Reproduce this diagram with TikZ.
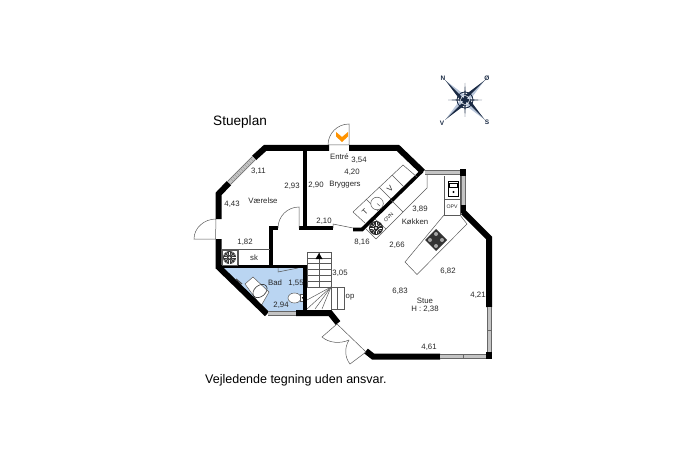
\documentclass[tikz,border=0pt]{standalone}
\usepackage{fontspec}
\usetikzlibrary{calc}
\setmainfont{Liberation Sans}
\definecolor{bathblue}{HTML}{BAD5F2}
\definecolor{wingrey}{HTML}{C4C4C4}
\definecolor{navy}{HTML}{1A2A44}
\definecolor{palenavy}{HTML}{B9C6DA}
\tikzset{
  wall/.style={line width=6pt,line cap=butt,line join=miter,black},
  iwall/.style={line width=3.6pt,line join=miter,black},
  thin/.style={line width=0.5pt,draw=black!65},
  glass/.style={line width=5pt,wingrey},
  glassedge/.style={line width=0.4pt,black!60},
  lbl/.style={font=\fontsize{7.8}{9}\selectfont,text=black!85,inner sep=0pt},
  small/.style={font=\fontsize{5.2}{6}\selectfont,text=black!85,inner sep=0pt},
  compasslbl/.style={font=\fontsize{6.5}{7}\selectfont\bfseries,text=navy,inner sep=0pt},
}
\begin{document}
\begin{tikzpicture}[x=1pt,y=-1pt]
\useasboundingbox (0,0) rectangle (687,457);
% bath floor
\fill[bathblue] (222,268) -- (303,268) -- (303,311) -- (268,311) -- cycle;
\draw[thin] (278,268) -- (278,272) -- (298,268);
% bath tub
\draw[thin,fill=white] (245,284) -- (253,277) -- (269,292) -- (261,306) -- cycle;
\draw[line width=0.6pt,black!80] (260,291) ellipse[x radius=8,y radius=5.5,rotate=40];
\draw[line width=1.2pt,black!70] (236,279) -- (242,284);
% toilet
\draw[thin,fill=white] (294.5,298) ellipse[x radius=6.5,y radius=5];
\draw[thin,fill=white] (300.5,294) rectangle (304.5,301.5);
\fill[black] (302.5,297.8) circle (0.8);
% walls
\draw[wall] (329,148) -- (265,148) -- (254,158);
\draw[wall] (229,183) -- (218.5,194) -- (218.5,219);
\draw[wall] (218.5,239) -- (218.5,267) -- (267,314);
\draw[wall] (296,313) -- (330,313) -- (338,323);
\draw[wall] (366,351) -- (373,356.5) -- (440,356.5);
\draw[wall] (489,307) -- (489,238) -- (463,212);
\draw[wall] (349,148) -- (398,148) -- (423,172);
\fill (486,352) rectangle (492,359);
\fill (459.5,169) rectangle (466,176);
\fill (459.5,205) rectangle (466,213);
% inner walls
\draw[iwall] (305,148) -- (305,228);
\draw[iwall] (299,228) -- (333,228);
\draw[iwall] (278,228) -- (271,228) -- (271,267);
\draw[iwall] (422,171) -- (362,229.5) -- (353,229.5);
\draw[iwall] (219,266.5) -- (307,266.5);
\draw[iwall] (305,266.5) -- (305,313);
% windows
\foreach \a/\b in {{(254,158)}/{(229,183)},{(268,313.5)}/{(296,313.5)},{(440,356.5)}/{(486,356.5)},{(489,307)}/{(489,352)},{(425,172)}/{(460,172)},{(463,176)}/{(463,205)}}{
  \draw[glass] \a -- \b;
}
\draw[glassedge] (255.5,159.5) -- (230.5,184.5) (252.5,156.5) -- (227.5,181.5);
\draw[glassedge] (268,311.5) -- (296,311.5) (268,315.5) -- (296,315.5);
\draw[glassedge] (440,354.5) -- (486,354.5) (440,358.5) -- (486,358.5) (463,354.5) -- (463,358.5);
\draw[glassedge] (487,307) -- (487,352) (491,307) -- (491,352) (487,330) -- (491,330);
\draw[glassedge] (425,170) -- (460,170) (425,174) -- (460,174);
\draw[glassedge] (461,176) -- (461,205) (465,176) -- (465,205);
% window hatch
\foreach \t in {0.08,0.16,...,0.96}{
  \draw[black!45,line width=0.3pt] ($(254,158)!\t!(229,183)+(-2,-2)$) -- ($(254,158)!\t!(229,183)+(2,2)$);
}
% entry door
\draw[thin] (349,145) -- (349,124) .. controls (337.4,124) and (328,133.4) .. (328,145) -- cycle;
\fill[orange!85!yellow] (336,132) -- (342,137) -- (348,132) -- (348,136.5) -- (342,142) -- (336,136.5) -- cycle;
% west door
\draw[thin] (216,219) -- (215.5,239) -- (194,239) .. controls (194,228) and (204,219) .. (216,219);
% Vaerelse door
\draw[thin] (299,228) -- (299,207) .. controls (287.4,207) and (278,216.4) .. (278,228);
% Bryggers door
\draw[thin] (333,228) -- (333,224) -- (353,228);
% sk closet
\draw[thin] (221,249) -- (270,249);
\draw[thin] (238,249) -- (238,265);
\draw[thin] (222,250) rectangle (237,265);
\fill[black!80] (229.5,257.5) circle (6.5);
\fill[white] (229.5,257.5) circle (1.2);
\foreach \r in {0,30,...,330}{\draw[white,line width=0.35pt] (229.5,257.5) ++(\r:2.5) -- ++(\r:3.5);}
% stairs
\draw[thin] (307,252) rectangle (331,287);
\foreach \y in {257.8,263.7,269.5,275.3,281.2}{\draw[thin] (307,\y) -- (331,\y);}
\draw[thin] (319,252) -- (319,287);
\fill (315.5,259) -- (319,253) -- (322.5,259) -- cycle;
\draw[thin] (331,287) -- (344,287) -- (344,309) -- (331,309) -- cycle;
\draw[thin] (337.5,287) -- (337.5,309);
\draw[thin] (331,287) -- (307,300);
\draw[thin] (331,287) -- (307,309);
\draw[thin] (331,287) -- (315,309);
\draw[thin] (331,287) -- (322,309);
% main entrance doors
\draw[thin] (337,324) -- (366,352);
\draw[thin] (337,324) -- (322,337) .. controls (329,343) and (340,344) .. (349,340);
\draw[thin] (366,352) -- (350,364) .. controls (345,358) and (344,348) .. (349,340);
% bryggers counter
\draw[thin] (353,212) -- (403,165) -- (417,177);
\draw[thin] (353,212) -- (365,223);
\draw[thin] (366,199) -- (378,211);
\draw[thin] (379,187) -- (391,199);
\draw[thin] (392,175) -- (404,187);
\draw[thin,fill=white] (377,203.5) circle (6.3);
\draw[thin] (377,203.5) -- (380,206) ;
% kitchen counter
\draw[thin] (427,175) -- (427,188) -- (376,239);
\draw[thin] (376,239) -- (366,229);
\draw[thin] (386,229) -- (375,219);
\draw[thin] (403,212) -- (391,200);
\fill[black!85] (376,228) circle (7);
\fill[white] (376,228) circle (1.2);
\foreach \r in {0,30,...,330}{\draw[white,line width=0.35pt] (376,228) ++(\r:2.5) -- ++(\r:3.8);}
\node[small,rotate=45] (ovn) at (388.5,217.5) {OVN};
% sink
\draw[thin] (444,176) -- (444,215) -- (460,215);
\draw[thin] (444,199) -- (460,199);
\draw[thin] (460,176) -- (460,215);
\draw[line width=0.6pt,fill=white] (448,181) rectangle (458,196);
\draw[line width=0.5pt] (449,183) rectangle (457,187);
\fill (453.5,192) circle (1.1);
\node[small] (opv) at (452,207) {OPV};
% hob counter
\draw[thin] (444,215) -- (405,262) -- (417,274.5) -- (467,224) -- (460,215);
\fill[black!80] (436,229) -- (447,240) -- (436,251) -- (425,240) -- cycle;
\foreach \p in {(436,234),(436,246),(430,240),(442,240)}{\fill[black!35] \p circle (2);}
% compass
\begin{scope}[shift={(465,100)}]
\foreach \r in {45,135,225,315}{
  \fill[palenavy,rotate=\r] (0,0) -- (3,3.5) -- (28,0) -- cycle;
  \fill[navy,rotate=\r] (0,0) -- (3,-3.5) -- (28,0) -- cycle;
}
\foreach \r in {0,90,180,270}{
  \fill[navy,rotate=\r] (0,-1.1) -- (17,0) -- (0,1.1) -- cycle;
}
\draw[navy,line width=0.8pt] (0,0) circle (8);
\draw[white,line width=0.5pt] (0,0) circle (4.5);
\fill[navy] (0,0) circle (2.8);
\end{scope}
\node[compasslbl] (n) at (443,78.5) {N};
\node[compasslbl] (oe) at (487,78) {Ø};
\node[compasslbl] (v) at (442,123) {V};
\node[compasslbl] (s) at (487,122.5) {S};
% labels
\node[inner sep=0pt,anchor=west,font=\fontsize{13.6}{15}\selectfont] (title) at (213,122) {Stueplan};
\node[inner sep=0pt,anchor=west,font=\fontsize{12.5}{14}\selectfont] (note) at (205,380) {Vejledende tegning uden ansvar.};
\node[lbl] (a1) at (339.5,157) {Entré};
\node[lbl] (a2) at (359,160) {3,54};
\node[lbl] (a3) at (352,172) {4,20};
\node[lbl] (a4) at (345,185) {Bryggers};
\node[lbl] (a5) at (258.5,171) {3,11};
\node[lbl] (a6) at (232,204) {4,43};
\node[lbl] (a7) at (263,201) {Værelse};
\node[lbl] (a8) at (292,186) {2,93};
\node[lbl] (a9) at (316,185) {2,90};
\node[lbl] (a10) at (324,221) {2,10};
\node[lbl] (a11) at (245,242) {1,82};
\node[lbl] (a12) at (254,258) {sk};
\node[lbl] (a13) at (275,283) {Bad};
\node[lbl] (a14) at (296,283) {1,55};
\node[lbl] (a15) at (281,305) {2,94};
\node[lbl] (a16) at (340,273) {3,05};
\node[lbl] (a17) at (350,297) {op};
\node[lbl] (a18) at (362,242) {8,16};
\node[lbl] (a19) at (397,245) {2,66};
\node[lbl] (a20) at (420,209) {3,89};
\node[lbl] (a21) at (415,222) {Køkken};
\node[lbl] (a22) at (448,271) {6,82};
\node[lbl] (a23) at (400,291) {6,83};
\node[lbl] (a24) at (478,295) {4,21};
\node[lbl] (a25) at (425,301) {Stue};
\node[lbl] (a26) at (425,309) {H : 2,38};
\node[lbl] (a27) at (429,347) {4,61};
\node[lbl,rotate=45] (t) at (365,212) {T};
\node[lbl,rotate=45] (vv) at (390,189) {V};
\end{tikzpicture}
\end{document}
